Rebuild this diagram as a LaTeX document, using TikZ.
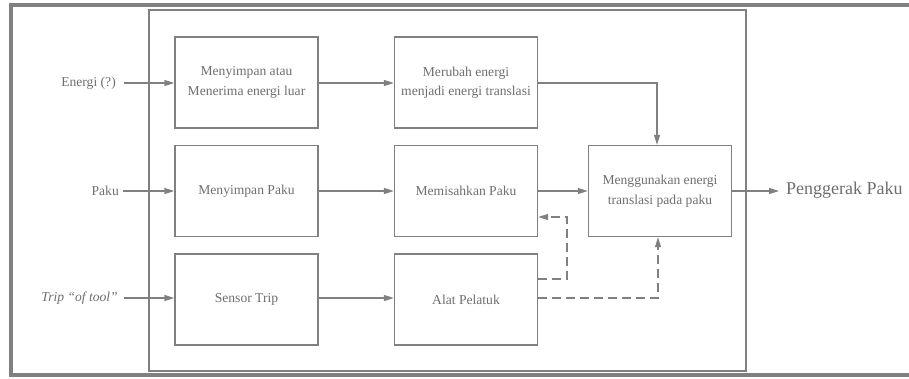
\documentclass[tikz,border=0pt]{standalone}
\usepackage{fontspec}
\setmainfont{Liberation Serif}
\usetikzlibrary{arrows.meta,calc}
\definecolor{linegray}{HTML}{808080}
\definecolor{textgray}{HTML}{6E6E6E}
\begin{document}
\begin{tikzpicture}[x=1pt,y=-1pt,
  blockbox/.style={draw=linegray,line width=1.4pt,minimum width=143pt,minimum height=91pt,
    align=center,text=textgray,font=\fontsize{13.6}{19.5}\selectfont,inner sep=0pt},
  inlabel/.style={text=textgray,font=\fontsize{13.6}{16}\selectfont,inner sep=0pt,anchor=east},
  flow/.style={draw=linegray,line width=1.4pt,-{Triangle[length=10pt,width=6pt]}},
  dashflow/.style={flow,dash pattern=on 9pt off 5pt}]
\useasboundingbox (0,0) rectangle (909,378);
% outer frame (open on the right)
\draw[linegray,line width=4pt] (912,4.8) -- (10.8,4.8) -- (10.8,375) -- (912,375);
% system boundary
\draw[linegray,line width=1.2pt] (149,10) rectangle (746,371);
% function blocks
\node[blockbox] (A1) at (246.5,82.5) {Menyimpan atau\\Menerima energi luar};
\node[blockbox] (A2) at (466,82.5) {Merubah energi\\menjadi energi translasi};
\node[blockbox] (B1) at (246.5,191) {Menyimpan Paku};
\node[blockbox] (B2) at (466,191) {Memisahkan Paku};
\node[blockbox] (C1) at (246.5,299.5) {Sensor Trip};
\node[blockbox] (C2) at (466,299.5) {Alat Pelatuk};
\node[blockbox] (D) at (660,191) {Menggunakan energi\\translasi pada paku};
% inputs
\node[inlabel] (inE) at (116,83) {Energi (?)};
\node[inlabel] (inP) at (119,191) {Paku};
\node[inlabel] (inT) at (118,298) {\itshape Trip “of tool”};
\coordinate (sE) at (124,83);
\coordinate (sP) at (123,191);
\coordinate (sT) at (124,298);
\draw[flow] (sE) -- (sE -| A1.west);
\draw[flow] (sP) -- (sP -| B1.west);
\draw[flow] (sT) -- (sT -| C1.west);
% internal flows
\draw[flow] (A1.east |- sE) -- (A2.west |- sE);
\draw[flow] (B1.east) -- (B2.west);
\draw[flow] (C1.east |- sT) -- (C2.west |- sT);
\draw[flow] (A2.east |- sE) -| ([xshift=-3pt]D.north);
\draw[flow] (B2.east) -- (D.west);
% trigger signals
\coordinate (t1) at (567,279);
\coordinate (t2) at (567,217);
\draw[dashflow] (C2.east |- t1) -- (t1) -- (t2) -- (B2.east |- t2);
\coordinate (t3) at (658,298);
\draw[dashflow] (C2.east |- t3) -- (t3) -- (t3 |- D.south);
% output
\coordinate (out) at (779,191);
\draw[flow] (D.east) -- (out);
\node[text=textgray,font=\fontsize{18}{20}\selectfont,inner sep=0pt,anchor=west] (outL) at (786,190) {Penggerak Paku};
\end{tikzpicture}
\end{document}
